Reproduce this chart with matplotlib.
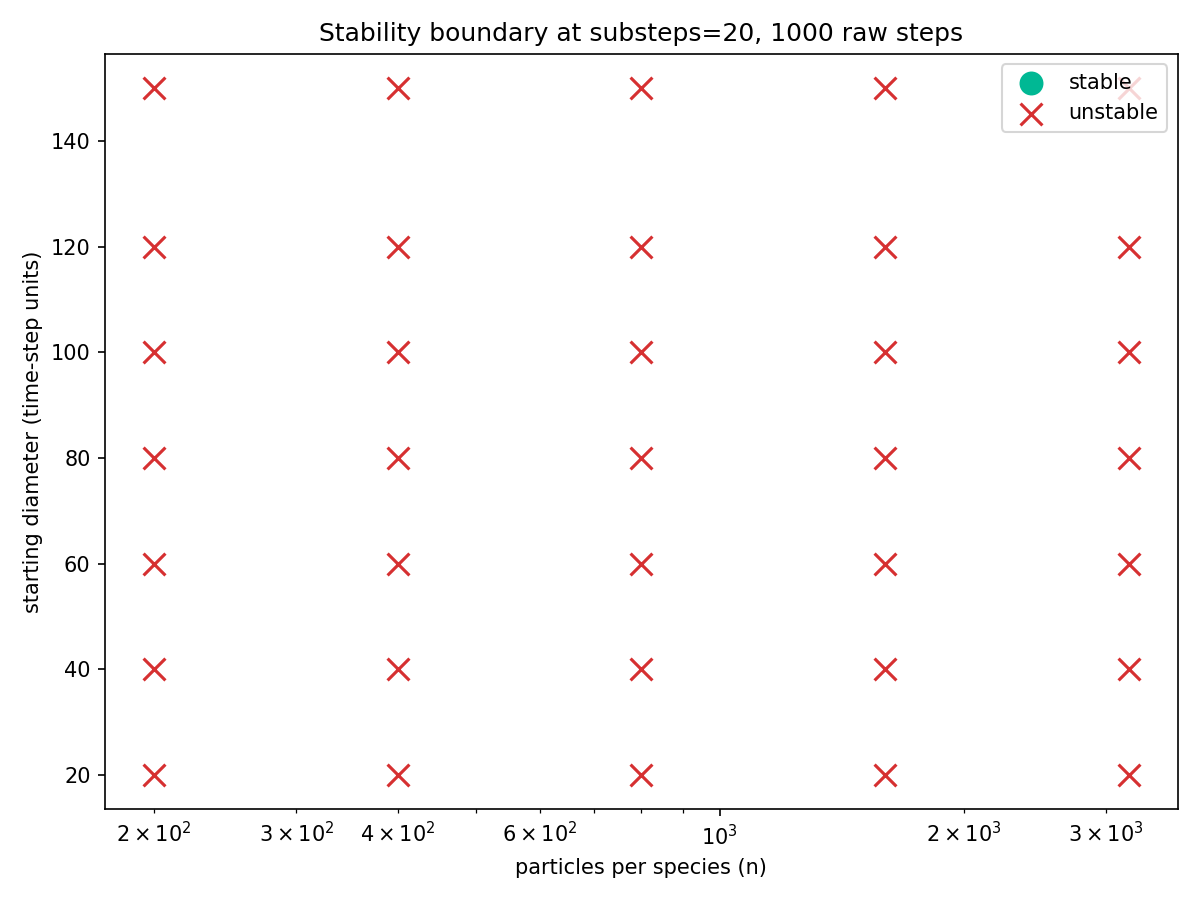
import matplotlib
matplotlib.use("Agg")
import matplotlib.pyplot as plt
from matplotlib.ticker import LogFormatterSciNotation
import numpy as np

n_values = [200, 400, 800, 1600, 3200]
diameters = [20, 40, 60, 80, 100, 120, 150]
stable_n = []
stable_d = []
unstable_n = [n for n in n_values for d in diameters]
unstable_d = [d for n in n_values for d in diameters]

fig, ax = plt.subplots(figsize=(8, 6), dpi=150)
ax.scatter(stable_n, stable_d, s=110, c="#00b894", marker="o", label="stable")
ax.scatter(unstable_n, unstable_d, s=110, c="#d63031", marker="x", label="unstable")
ax.set_xscale("log")
ax.xaxis.set_minor_formatter(LogFormatterSciNotation(labelOnlyBase=False, minor_thresholds=(2, 0.4)))
ax.set_xlabel("particles per species (n)")
ax.set_ylabel("starting diameter (time-step units)")
ax.set_title("Stability boundary at substeps=20, 1000 raw steps")
ax.legend(loc="upper right")
fig.tight_layout()
fig.savefig("out.png")
